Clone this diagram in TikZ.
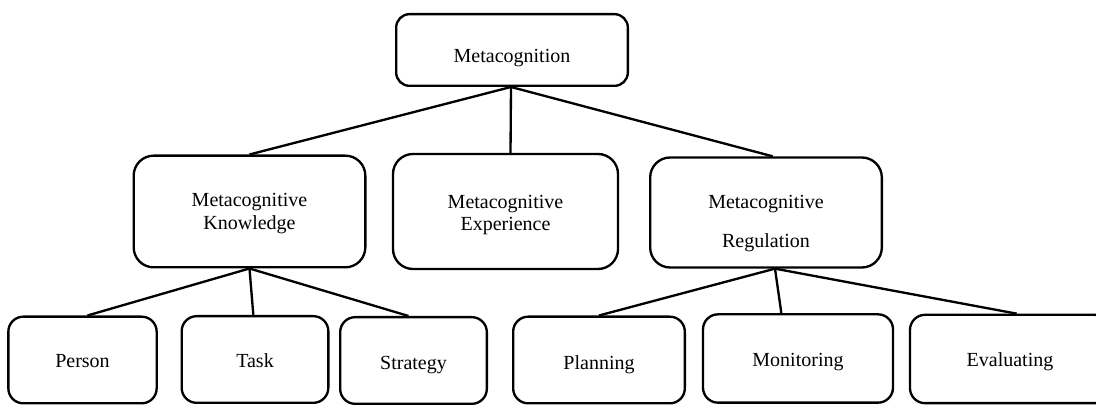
\documentclass[tikz,border=0pt]{standalone}
\usepackage{fontspec}
\setmainfont{Liberation Serif}
\usepackage{tikz}
\usetikzlibrary{positioning}

% text set with its baseline a given distance below the box centre
\newcommand{\sinkby}[2]{\raisebox{-#1}[0pt][0pt]{\shortstack{#2}}}

\begin{document}
\begin{tikzpicture}[
    x=0.6pt,
    y=-0.6pt,
    line width=1.4pt,
    every node/.style={font=\fontsize{12}{14}\selectfont},
    topbox/.style={
        rectangle,
        rounded corners=8pt,
        draw,
        fill=white,
        minimum width=139pt,
        minimum height=43pt
    },
    midbox/.style={
        rectangle,
        rounded corners=12pt,
        draw,
        fill=white,
        minimum width=139pt,
        minimum height=67pt
    },
    leafbox/.style={
        rectangle,
        rounded corners=9pt,
        draw,
        fill=white,
        minimum height=52pt
    }
]
    \clip (0,0) rectangle (1096,405);

    % === ROOT ===
    \node[topbox] (meta) at (512,50) {\sinkby{7.8pt}{Metacognition}};

    % === SECOND LEVEL ===
    \node[midbox] (know) at (249.5,211.5) {\sinkby{11.1pt}{Metacognitive\\Knowledge}};
    \node[midbox, minimum width=135pt, minimum height=69pt] (exper) at (505.5,211.5) {\sinkby{11.7pt}{Metacognitive\\Experience}};
    \node[midbox, minimum height=66pt] (regul) at (766,212.5) {\sinkby{21.3pt}{Metacognitive\\[9.5pt]Regulation}};

    % === LEAVES ===
    \node[leafbox, minimum width=89pt] (person) at (82.5,360) {\sinkby{4.8pt}{Person}};
    \node[leafbox, minimum width=88pt] (task) at (255,359.5) {\sinkby{5.1pt}{Task}};
    \node[leafbox, minimum width=88pt] (strat) at (413.5,360.5) {\sinkby{5.7pt}{Strategy}};
    \node[leafbox, minimum width=103pt] (plan) at (599,360) {\sinkby{6pt}{Planning}};
    \node[leafbox, minimum width=114pt, minimum height=53pt] (monit) at (798,358.5) {\sinkby{5.1pt}{Monitoring}};
    \node[leafbox, minimum width=120pt, minimum height=53pt] (evalu) at (1010,359) {\sinkby{4.8pt}{Evaluating}};

    % junctions
    \coordinate (rootj) at ([xshift=-0.6pt]meta.south);
    \coordinate (regj) at ([xshift=5.4pt]regul.south);

    % === CONNECTORS ===
    \draw (rootj) -- (know.north);
    \draw (rootj) -- ([xshift=3pt]exper.north);
    \draw (rootj) -- ([xshift=4pt]regul.north);

    \draw (know.south) -- ([xshift=3pt]person.north);
    \draw (know.south) -- ([xshift=-1pt]task.north);
    \draw (know.south) -- ([xshift=-3pt]strat.north);

    \draw (regj) -- (plan.north);
    \draw (regj) -- ([xshift=-10pt]monit.north);
    \draw (regj) -- ([xshift=4pt]evalu.north);
\end{tikzpicture}
\end{document}
